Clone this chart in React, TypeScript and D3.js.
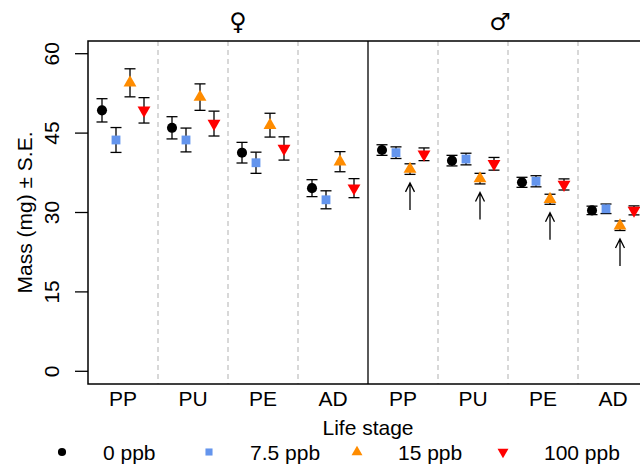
import React, { useEffect, useRef } from "react";
import * as d3 from "d3";

// groups: female PP..AD, then male PP..AD
const stages = ["PP", "PU", "PE", "AD"];
const sexes = ["\u2640", "\u2642"];
const concentrations = ["0 ppb", "7.5 ppb", "15 ppb", "100 ppb"];
const yTicks = [0, 15, 30, 45, 60];

const mean0 = [49.3, 46.0, 41.3, 34.6, 41.8, 39.8, 35.7, 30.4];
const se0 = [2.2, 2.1, 1.95, 1.6, 1.0, 1.0, 0.95, 0.8];
const mean7 = [43.7, 43.7, 39.4, 32.4, 41.3, 40.1, 35.9, 30.7];
const se7 = [2.35, 2.25, 2.0, 1.7, 1.1, 1.1, 1.05, 0.9];
const mean15 = [54.5, 51.8, 46.5, 39.6, 38.2, 36.4, 32.5, 27.5];
const se15 = [2.65, 2.5, 2.25, 1.9, 1.0, 1.0, 0.95, 0.9];
const mean100 = [49.3, 46.8, 42.1, 34.6, 41.0, 39.2, 35.3, 30.4];
const se100 = [2.4, 2.35, 2.2, 1.8, 1.2, 1.2, 1.05, 0.85];

// arrows mark the 15 ppb males
const arrowSeries = "15 ppb";
const arrowGroups = [4, 5, 6, 7];

const colors = ["#000000", "#6495ED", "#FF8C00", "#FF0000"];

const App = () => {
  const svgRef = useRef(null);

  useEffect(() => {
    const svg = d3.select(svgRef.current);
    svg.selectAll("*").remove();

    const font = "'Liberation Sans', Arial, sans-serif";
    const left = 88, top = 41, bottom = 384, right = 648;

    const groups = sexes.flatMap((s) => stages.map((st) => s + st));
    const means = [mean0, mean7, mean15, mean100];
    const ses = [se0, se7, se15, se100];

    const x = d3.scaleBand().domain(groups).range([left, right]).padding(0);
    const xs = d3.scalePoint().domain(concentrations).range([14, 56]);
    const y = d3.scaleLinear().domain([-2.4, 62.4]).range([bottom, top]);

    const symbolFor = (i, big) => {
      const g = d3.symbol();
      if (i === 0) return g.type(d3.symbolCircle).size(big ? 80 : 52)();
      if (i === 1) return g.type(d3.symbolSquare).size(big ? 78 : 50)();
      return g.type(d3.symbolTriangle).size(big ? 72 : 52)();
    };

    // dashed separators between stages
    groups.forEach((g, i) => {
      if (i === 0 || i === 4) return;
      svg
        .append("line")
        .attr("x1", x(g))
        .attr("x2", x(g))
        .attr("y1", top)
        .attr("y2", bottom)
        .attr("stroke", "#BEBEBE")
        .attr("stroke-width", 1.2)
        .attr("stroke-dasharray", "5,4");
    });

    // panel box and sex divider
    svg
      .append("rect")
      .attr("x", left)
      .attr("y", top)
      .attr("width", right - left)
      .attr("height", bottom - top)
      .attr("fill", "none")
      .attr("stroke", "#000")
      .attr("stroke-width", 1.5);
    svg
      .append("line")
      .attr("x1", x(groups[4]))
      .attr("x2", x(groups[4]))
      .attr("y1", top)
      .attr("y2", bottom)
      .attr("stroke", "#000")
      .attr("stroke-width", 1.3);

    // y axis
    yTicks.forEach((t) => {
      svg
        .append("line")
        .attr("x1", left - 13)
        .attr("x2", left)
        .attr("y1", y(t))
        .attr("y2", y(t))
        .attr("stroke", "#000")
        .attr("stroke-width", 1.3);
      svg
        .append("text")
        .attr("transform", `translate(59, ${y(t)}) rotate(-90)`)
        .attr("text-anchor", "middle")
        .attr("font-family", font)
        .attr("font-size", 21)
        .text(t);
    });
    svg
      .append("text")
      .attr("transform", `translate(32, ${(top + bottom) / 2}) rotate(-90)`)
      .attr("text-anchor", "middle")
      .attr("font-family", font)
      .attr("font-size", 21)
      .text("Mass (mg) \u00b1 S.E.");

    // x labels
    groups.forEach((g, i) => {
      svg
        .append("text")
        .attr("x", x(g) + x.bandwidth() / 2)
        .attr("y", 406)
        .attr("text-anchor", "middle")
        .attr("font-family", font)
        .attr("font-size", 21)
        .text(stages[i % 4]);
    });
    svg
      .append("text")
      .attr("x", 368)
      .attr("y", 435)
      .attr("text-anchor", "middle")
      .attr("font-family", font)
      .attr("font-size", 21)
      .text("Life stage");

    // sex headers
    [238, 500].forEach((cx, i) => {
      svg
        .append("text")
        .attr("x", cx)
        .attr("y", 30)
        .attr("text-anchor", "middle")
        .attr("font-family", "'DejaVu Sans', sans-serif")
        .attr("font-size", 24)
        .text(sexes[i]);
    });

    // error bars and points
    concentrations.forEach((c, si) => {
      groups.forEach((g, gi) => {
        const cx = x(g) + xs(c);
        const m = means[si][gi];
        const e = ses[si][gi];
        const bars = svg.append("g").attr("stroke", "#000").attr("stroke-width", 1.3);
        bars.append("line").attr("x1", cx).attr("x2", cx).attr("y1", y(m + e)).attr("y2", y(m - e));
        bars.append("line").attr("x1", cx - 5.5).attr("x2", cx + 5.5).attr("y1", y(m + e)).attr("y2", y(m + e));
        bars.append("line").attr("x1", cx - 5.5).attr("x2", cx + 5.5).attr("y1", y(m - e)).attr("y2", y(m - e));
        svg
          .append("path")
          .attr("d", symbolFor(si, true))
          .attr("transform", `translate(${cx}, ${y(m)})${si === 3 ? " rotate(180)" : ""}`)
          .attr("fill", colors[si]);
      });
    });

    // arrows below 15 ppb males
    const ai = concentrations.indexOf(arrowSeries);
    arrowGroups.forEach((gi) => {
      const cx = x(groups[gi]) + xs(arrowSeries);
      const head = y(means[ai][gi] - ses[ai][gi]) + 8.5;
      const tail = head + 27;
      svg
        .append("path")
        .attr("d", `M${cx},${tail}L${cx},${head}M${cx - 4.5},${head + 9}L${cx},${head}L${cx + 4.5},${head + 9}`)
        .attr("fill", "none")
        .attr("stroke", "#000")
        .attr("stroke-width", 1.3);
    });

    // legend
    const legendSymX = [62, 209, 357, 503];
    concentrations.forEach((c, i) => {
      svg
        .append("path")
        .attr("d", symbolFor(i, false))
        .attr("transform", `translate(${legendSymX[i]}, 452)${i === 3 ? " rotate(180)" : ""}`)
        .attr("fill", colors[i]);
      svg
        .append("text")
        .attr("x", legendSymX[i] + 41)
        .attr("y", 459.5)
        .attr("font-family", font)
        .attr("font-size", 21)
        .text(c);
    });
  }, []);

  return (
    <svg
      ref={svgRef}
      width={640}
      height={466}
      style={{ position: "absolute", left: 0, top: 0, background: "#fff" }}
    ></svg>
  );
};

export default App;
